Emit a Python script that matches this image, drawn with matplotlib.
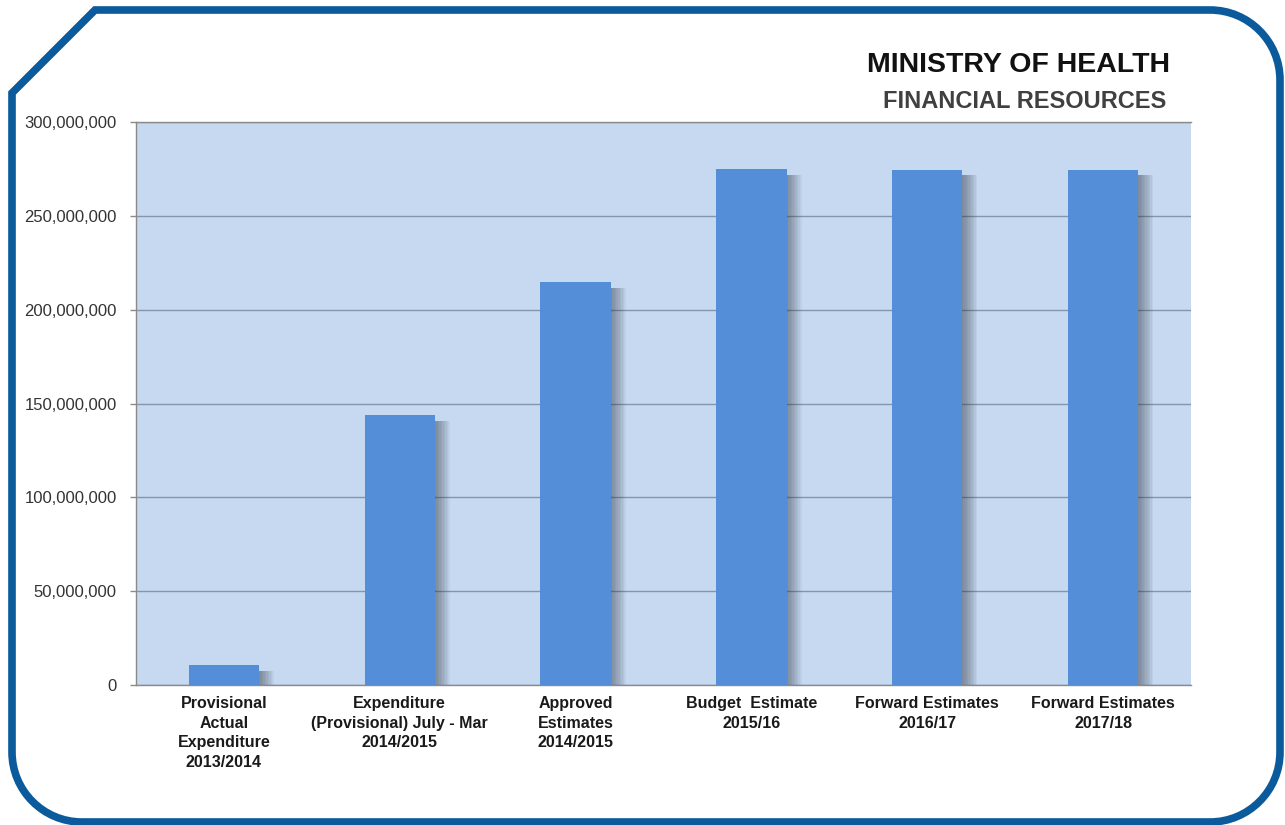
import numpy as np
import matplotlib
matplotlib.use("Agg")
import matplotlib.pyplot as plt
from matplotlib.path import Path
from matplotlib.patches import PathPatch
from matplotlib.ticker import FuncFormatter

plt.rcParams['font.family'] = ['Liberation Sans', 'DejaVu Sans']

# Daten: Ausgaben / Schätzungen des Gesundheitsministeriums
categories = [
    "Provisional\nActual\nExpenditure\n2013/2014",
    "Expenditure\n(Provisional) July - Mar\n2014/2015",
    "Approved\nEstimates\n2014/2015",
    "Budget  Estimate\n2015/16",
    "Forward Estimates\n2016/17",
    "Forward Estimates\n2017/18",
]
values = [10_500_000, 143_800_000, 214_500_000, 274_800_000, 274_600_000, 274_600_000]
yticks = [0, 50_000_000, 100_000_000, 150_000_000, 200_000_000, 250_000_000, 300_000_000]

W, H = 1285, 825
fig = plt.figure(figsize=(W / 100, H / 100), dpi=100)
fig.patch.set_facecolor('white')

# Diagrammfläche in Pixelkoordinaten
left, top, right, bottom = 136, 122, 1191, 685
ax = fig.add_axes([left / W, (H - bottom) / H, (right - left) / W, (bottom - top) / H])
ax.set_facecolor('#c6d9f1')

x = np.arange(len(values))
vals = np.array(values)
bar_w = 0.40

# weicher Schatten rechts neben den Balken
for off in np.linspace(0.006, 0.085, 10):
    ax.bar(x + off, vals - 3_000_000, bar_w, bottom=0, color='#2c3440',
           alpha=0.06, zorder=2, linewidth=0)

ax.bar(x, vals, bar_w, color='#558ed8', zorder=3, linewidth=0)

ax.set_xlim(-0.5, len(values) - 0.5)
ax.set_ylim(0, 300_000_000)
ax.set_yticks(yticks)
ax.yaxis.set_major_formatter(FuncFormatter(lambda v, p: f"{int(v):,}"))
ax.grid(axis='y', color='#8595ab', linewidth=1.0, zorder=1)
ax.set_axisbelow(True)

ax.set_xticks(x, categories)
ax.tick_params(axis='x', length=0, pad=8, labelsize=11.5, labelcolor='#1a1a1a')
for lbl in ax.get_xticklabels():
    lbl.set_fontweight('bold')
    lbl.set_linespacing(1.38)
ax.tick_params(axis='y', length=4, width=1, color='#8a8a8a', pad=10,
               labelsize=12, labelcolor='#333333')

for side in ['left', 'bottom', 'top']:
    ax.spines[side].set_color('#8a8a8a')
    ax.spines[side].set_linewidth(1)
ax.spines['right'].set_visible(False)

# Überschriften
fig.text(1170 / W, 1 - 72 / H, "MINISTRY OF HEALTH", ha='right', va='baseline',
         fontsize=20.5, fontweight='bold', color='#111111')
fig.text(1166 / W, 1 - 108 / H, "FINANCIAL RESOURCES", ha='right', va='baseline',
         fontsize=17, fontweight='bold', color='#404040')

# blauer Rahmen mit abgeschrägter Ecke oben links
frame = fig.add_axes([0, 0, 1, 1], zorder=10)
frame.set_xlim(0, W)
frame.set_ylim(H, 0)
frame.axis('off')
frame.patch.set_visible(False)

k = 0.5523


def corner(p0, c, p3):
    p0, c, p3 = map(np.array, (p0, c, p3))
    p1 = p0 + k * (c - p0)
    p2 = p3 + k * (c - p3)
    return [tuple(p1), tuple(p2), tuple(p3)]


r = 70
x0, x1, y0, y1 = 12, 1280, 10, 822
verts = [(95, y0), (x1 - r, y0)]
codes = [Path.MOVETO, Path.LINETO]
verts += corner((x1 - r, y0), (x1, y0), (x1, y0 + r))
codes += [Path.CURVE4] * 3
verts += [(x1, y1 - r)]
codes += [Path.LINETO]
verts += corner((x1, y1 - r), (x1, y1), (x1 - r, y1))
codes += [Path.CURVE4] * 3
verts += [(x0 + r, y1)]
codes += [Path.LINETO]
verts += corner((x0 + r, y1), (x0, y1), (x0, y1 - r))
codes += [Path.CURVE4] * 3
verts += [(x0, 93), (95, y0)]
codes += [Path.LINETO, Path.CLOSEPOLY]

frame.add_patch(PathPatch(Path(verts, codes), facecolor='none',
                          edgecolor='#0b5a9b', linewidth=5.5, joinstyle='miter'))

fig.savefig("out.png", dpi=100)
